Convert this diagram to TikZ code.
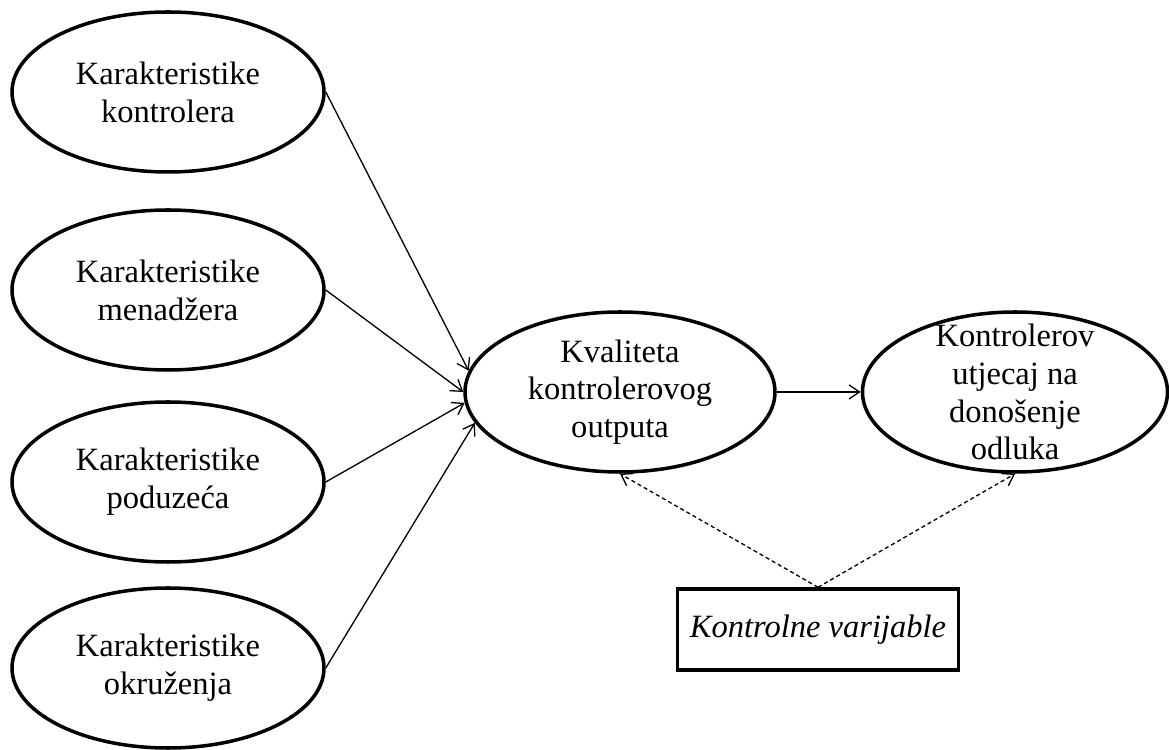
\documentclass[tikz,border=0pt]{standalone}
\usepackage{fontspec}
\setmainfont{Liberation Serif}
\usetikzlibrary{shapes.geometric,arrows.meta}
\begin{document}
\begin{tikzpicture}[
    oval/.style={ellipse, draw, line width=2pt, minimum width=6.24cm, minimum height=3.2cm, inner sep=0pt, align=center},
    strelica/.style={-{Straight Barb[length=6pt,width=8pt]}, line width=0.75pt},
    isprekidana/.style={strelica, dash pattern=on 2.3pt off 1.7pt},
    font=\fontsize{18.5}{21.5}\selectfont
]
    \useasboundingbox (0,0) rectangle (23.38,14.98);
    \node[oval] (kontroler) at (3.36,13.14) {Karakteristike\\kontrolera};
    \node[oval] (menadzer) at (3.36,9.18) {Karakteristike\\menadžera};
    \node[oval] (poduzece) at (3.36,5.34) {Karakteristike\\poduzeća};
    \node[oval] (okruzenje) at (3.36,1.62) {Karakteristike\\okruženja};
    \node[oval, minimum width=6.2cm] (kvaliteta) at (12.4,7.14) {Kvaliteta\\kontrolerovog\\outputa};
    \node[oval, minimum width=6.1cm] (utjecaj) at (20.3,7.14) {};
    \node[align=center] (utjecajtekst) at (utjecaj) {Kontrolerov\\utjecaj na\\donošenje\\odluka};
    \node[draw, line width=2pt, minimum width=5.62cm, minimum height=1.62cm, font=\fontsize{18.5}{21.5}\selectfont\itshape] (varijable) at (16.36,2.39) {Kontrolne varijable};
    \draw[strelica] (kontroler.east) -- (kvaliteta.172);
    \draw[strelica] (menadzer.east) -- (kvaliteta.180);
    \draw[strelica] (poduzece.east) -- (kvaliteta.184);
    \draw[strelica] (okruzenje.east) -- (kvaliteta.192);
    \draw[strelica] (kvaliteta) -- (utjecaj);
    \draw[isprekidana] (varijable.north) -- (kvaliteta.south);
    \draw[isprekidana] (varijable.north) -- (utjecaj.south);
\end{tikzpicture}
\end{document}
